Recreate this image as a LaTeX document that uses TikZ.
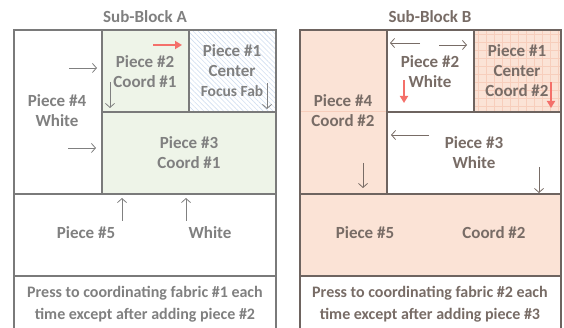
\documentclass[tikz,border=0pt]{standalone}
\usepackage{fontspec}
\setmainfont{Carlito}
\usetikzlibrary{arrows.meta,patterns.meta}
\definecolor{edgeA}{RGB}{122,122,122}
\definecolor{edgeB}{RGB}{110,100,96}
\definecolor{txtA}{RGB}{128,128,128}
\definecolor{txtB}{RGB}{120,108,102}
\definecolor{coordone}{RGB}{238,244,232}
\definecolor{coordtwo}{RGB}{251,227,214}
\definecolor{gridtwo}{RGB}{247,206,188}
\definecolor{hatchblue}{RGB}{208,222,240}
\definecolor{pinkred}{RGB}{244,112,106}

\begin{document}
\begin{tikzpicture}[x=1pt,y=-1pt,
  lblA/.style={font=\bfseries\fontsize{17}{20}\selectfont, align=center, text=txtA},
  lblB/.style={lblA, text=txtB},
  note/.style={font=\bfseries\fontsize{16}{22}\selectfont, align=center},
  wallA/.style={edgeA, line width=2pt},
  wallB/.style={edgeB, line width=2pt},
  seam/.style={line width=0.8pt, -{Straight Barb[length=4pt,width=9pt]}},
  press/.style={pinkred, line width=2pt, -{Triangle[length=7pt,width=8pt]}}]
\useasboundingbox (0,0) rectangle (564,328);

% Sub-Block A
\fill [coordone] (102,30) rectangle (189,112);
\fill [coordone] (102,112) rectangle (276,194);
\fill [pattern={Lines[angle=-45,distance=3.5pt,line width=0.6pt]}, pattern color=hatchblue] (189,30) rectangle (276,112);
\draw [wallA] (14,328) -- (14,30) -- (276,30) -- (276,328);
\draw [wallA] (102,30) -- (102,194);
\draw [wallA] (189,30) -- (189,112);
\draw [wallA] (102,112) -- (276,112);
\draw [wallA] (14,194) -- (276,194);
\draw [wallA] (14,276) -- (276,276);

\node [lblA] (titleA) at (145,17) {Sub-Block A};
\node [lblA] (pfourA) at (57,111) {Piece \#4\\White};
\node [lblA] (ptwoA) at (145,71.5) {Piece \#2\\Coord \#1};
\node [lblA] (poneA) at (232,71) {Piece \#1\\Center\\{\fontsize{15.5}{18}\selectfont Focus Fab}};
\node [lblA] (pthreeA) at (189,153) {Piece \#3\\Coord \#1};
\node [lblA] (pfiveA) at (86,233) {Piece \#5};
\node [lblA] (whiteA) at (210,233) {White};
\node [note, text=txtA] (noteA) at (145,304) {Press to coordinating fabric \#1 each\\time except after adding piece \#2};

\draw [seam, txtA] (69,68) -- (97,68);
\draw [seam, txtA] (68,148) -- (96,148);
\draw [seam, txtA] (110,82) -- (110,108);
\draw [seam, txtA] (267,83) -- (267,109);
\draw [seam, txtA] (122,221) -- (122,198);
\draw [seam, txtA] (186,221) -- (186,198);
\draw [press] (153,45) -- (182,45);

% Sub-Block B
\fill [coordtwo] (300,30) rectangle (387,194);
\fill [coordtwo] (474,30) rectangle (561,112);
\fill [coordtwo] (300,194) rectangle (561,276);
\foreach \gx in {478,486,...,558} \draw [gridtwo, line width=0.4pt] (\gx,30) -- (\gx,112);
\foreach \gy in {34,42,...,110} \draw [gridtwo, line width=0.4pt] (474,\gy) -- (561,\gy);
\draw [gridtwo, line width=1pt] (300,112) -- (387,112);
\draw [wallB] (300,328) -- (300,30) -- (561,30) -- (561,328);
\draw [wallB] (387,30) -- (387,194);
\draw [wallB] (474,30) -- (474,112);
\draw [wallB] (387,112) -- (561,112);
\draw [wallB] (300,194) -- (561,194);
\draw [wallB] (300,276) -- (561,276);

\node [lblB] (titleB) at (430,17) {Sub-Block B};
\node [lblB] (pfourB) at (343,111) {Piece \#4\\Coord \#2};
\node [lblB] (ptwoB) at (430,71.5) {Piece \#2\\White};
\node [lblB] (poneB) at (517,71) {Piece \#1\\Center\\Coord \#2};
\node [lblB] (pthreeB) at (474,153) {Piece \#3\\White};
\node [lblB] (pfiveB) at (365,233) {Piece \#5};
\node [lblB] (coordB) at (494,233) {Coord \#2};
\node [note, text=txtB] (noteB) at (430,304) {Press to coordinating fabric \#2 each\\time except after adding piece \#3};

\draw [seam, txtB] (420,43) -- (390,43);
\draw [seam, txtB] (439,45) -- (467,45);
\draw [seam, txtB] (429,135) -- (391,135);
\draw [seam, txtB] (363,163) -- (363,188);
\draw [seam, txtB] (539,167) -- (539,193);
\draw [press] (404,80) -- (404,103);
\draw [press] (551,82) -- (551,108);

\end{tikzpicture}
\end{document}
